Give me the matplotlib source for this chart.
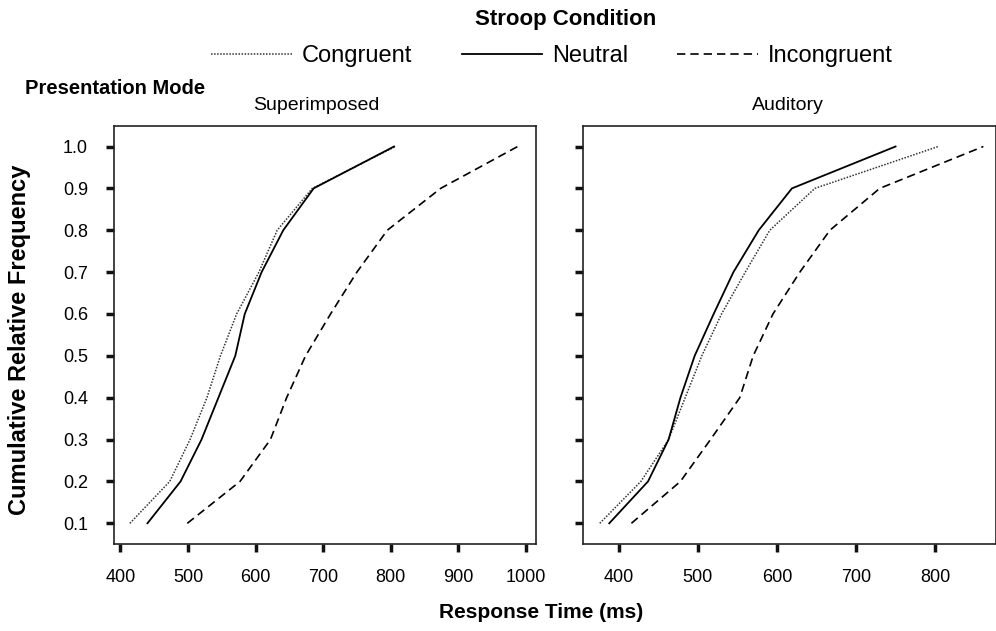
import matplotlib
matplotlib.use("Agg")
from matplotlib import pyplot as plt
from matplotlib.lines import Line2D

plt.rcParams['font.family'] = ['Liberation Sans', 'DejaVu Sans']

# cumulative relative frequency levels (deciles)
freq = [0.1, 0.2, 0.3, 0.4, 0.5, 0.6, 0.7, 0.8, 0.9, 1.0]

# Superimposed presentation mode, response time (ms) at each decile
sup_congruent = [414, 473, 503, 528, 548, 572, 605, 632, 684, 807]
sup_neutral = [440, 489, 520, 545, 570, 584, 609, 641, 686, 805]
sup_incongruent = [499, 577, 622, 646, 674, 711, 750, 795, 874, 988]

# Auditory presentation mode
aud_congruent = [376, 428, 463, 484, 505, 530, 560, 591, 648, 804]
aud_neutral = [388, 437, 463, 478, 496, 520, 545, 577, 619, 750]
aud_incongruent = [416, 478, 516, 553, 570, 595, 629, 667, 730, 861]

conditions = ["Congruent", "Neutral", "Incongruent"]
panels = ["Superimposed", "Auditory"]

styles = {
    "Congruent": dict(color='#333333', linestyle=(0, (1, 1)), linewidth=1.1),
    "Neutral": dict(color='black', linestyle='-', linewidth=1.3),
    "Incongruent": dict(color='black', linestyle=(0, (5, 3)), linewidth=1.2),
}

fig = plt.figure(figsize=(9.96, 6.31), dpi=100)
ax_sup = fig.add_axes([0.1148, 0.1375, 0.4233, 0.6635])
ax_aud = fig.add_axes([0.5851, 0.1375, 0.4149, 0.6635])

data = {
    "Superimposed": [sup_congruent, sup_neutral, sup_incongruent],
    "Auditory": [aud_congruent, aud_neutral, aud_incongruent],
}
limits = {"Superimposed": (391, 1015), "Auditory": (354.5, 877)}
ticks = {"Superimposed": [400, 500, 600, 700, 800, 900, 1000],
         "Auditory": [400, 500, 600, 700, 800]}

for ax, name in zip([ax_sup, ax_aud], panels):
    for cond, xs in zip(conditions, data[name]):
        ax.plot(xs, freq, **styles[cond])
    ax.set_xlim(*limits[name])
    ax.set_ylim(0.05, 1.05)
    ax.set_xticks(ticks[name])
    ax.set_yticks(freq)
    for side in ['top', 'right', 'left', 'bottom']:
        ax.spines[side].set_linewidth(1.2)
        ax.spines[side].set_color('#222222')
    ax.tick_params(axis='both', direction='out', length=6, width=2.5,
                   labelsize=13, color='#111111')
    ax.tick_params(axis='x', pad=12)
    ax.tick_params(axis='y', pad=13)

ax_sup.set_yticklabels([f"{v:.1f}" for v in freq])
ax_aud.set_yticklabels([])

fig.text(316 / 996, 1 - 105 / 631, "Superimposed", ha='center', va='center', fontsize=14)
fig.text(788 / 996, 1 - 105 / 631, "Auditory", ha='center', va='center', fontsize=14)
fig.text(25 / 996, 1 - 89 / 631, "Presentation Mode", ha='left', va='center',
         fontsize=14.5, fontweight='bold')
fig.text(566 / 996, 1 - 20 / 631, "Stroop Condition", ha='center', va='center',
         fontsize=16, fontweight='bold')
fig.text(20 / 996, 1 - 340 / 631, "Cumulative Relative Frequency", ha='center',
         va='center', rotation=90, fontsize=17, fontweight='bold')
fig.text(541 / 996, 1 - 612 / 631, "Response Time (ms)", ha='center', va='center',
         fontsize=15, fontweight='bold')

handles = [Line2D([], [], **styles[c]) for c in conditions]
fig.legend(handles, conditions, loc='center', bbox_to_anchor=(552 / 996, 1 - 56 / 631),
           ncol=3, frameon=False, fontsize=17, handlelength=3.4,
           handletextpad=0.42, columnspacing=2.1)

fig.savefig("out.png", dpi=100)
